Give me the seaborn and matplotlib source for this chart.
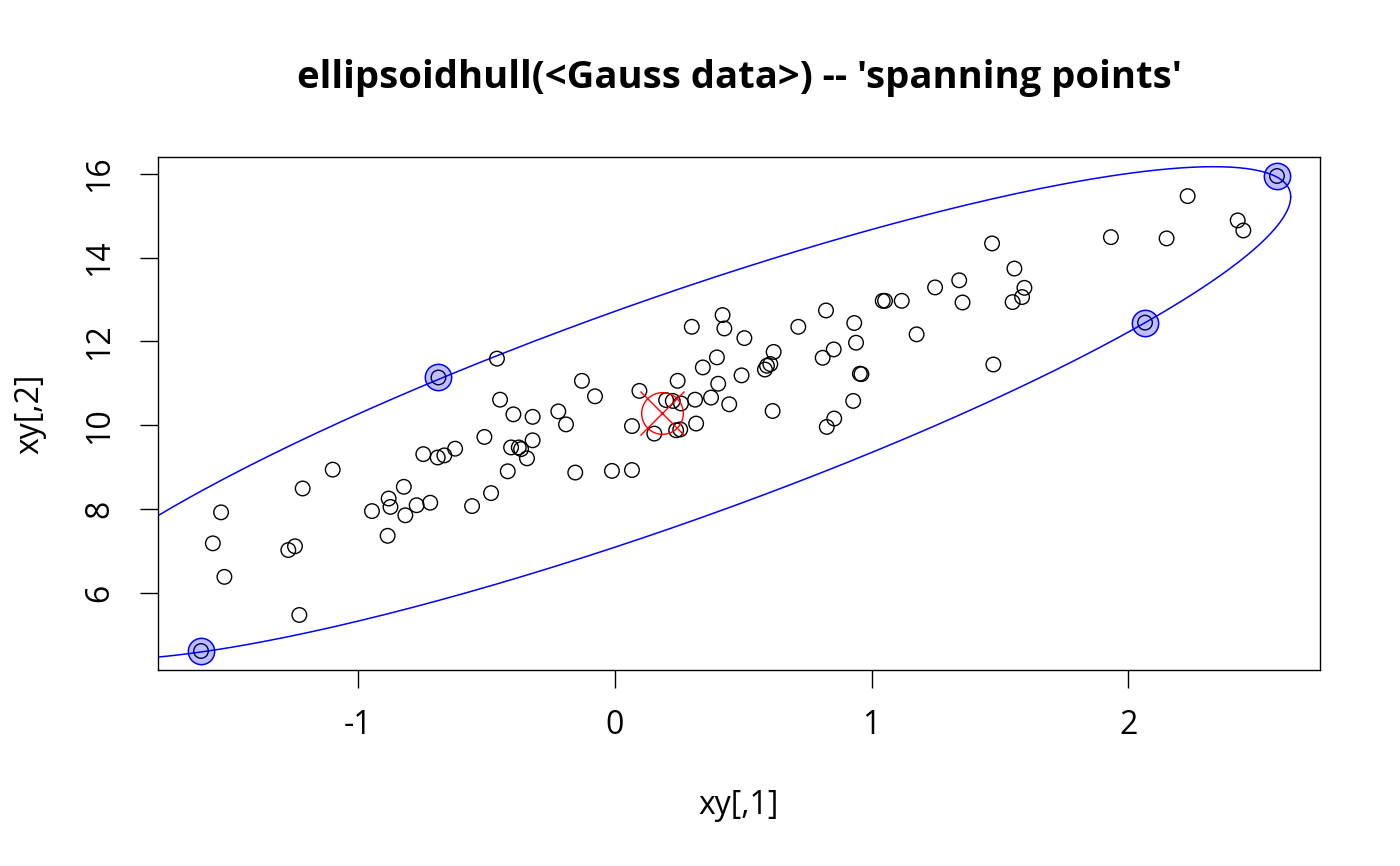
import numpy as np
import pandas as pd
import matplotlib
matplotlib.use("Agg")
import matplotlib.pyplot as plt
import seaborn as sns

# Gauss data (xy[,1], xy[,2])
x_vals = [
    -1.613, -1.535, -1.567, -1.522, -1.217, -1.230, -1.273, -1.247, -1.100, -0.947,
    -0.882, -0.875, -0.823, -0.817, -0.773, -0.720, -0.886, -0.747, -0.691, -0.665,
    -0.623, -0.688, -0.460, -0.448, -0.509, -0.557, -0.483, -0.418, -0.396, -0.321,
    -0.405, -0.375, -0.366, -0.321, -0.343, -0.221, -0.191, -0.129, -0.078, -0.155,
    -0.012, 0.066, 0.066, 0.095, 0.153, 0.199, 0.225, 0.257, 0.244, 0.312,
    0.238, 0.254, 0.316, 0.374, 0.445, 0.402, 0.397, 0.342, 0.493, 0.299,
    0.419, 0.426, 0.504, 0.714, 0.822, 0.932, 0.939, 0.809, 0.852, 0.954,
    0.960, 0.928, 0.854, 0.825, 0.618, 0.605, 0.592, 0.584, 0.614, 1.043,
    1.052, 1.117, 1.247, 1.341, 1.354, 1.175, 1.474, 1.549, 1.586, 1.595,
    1.556, 1.469, 1.932, 2.149, 2.065, 2.231, 2.426, 2.448, 2.579,
]
y_vals = [
    4.61, 7.92, 7.18, 6.38, 8.49, 5.47, 7.02, 7.11, 8.94, 7.95,
    8.25, 8.05, 8.53, 7.85, 8.09, 8.15, 7.36, 9.31, 9.23, 9.28,
    9.44, 11.14, 11.59, 10.61, 9.72, 8.07, 8.38, 8.90, 10.26, 10.20,
    9.47, 9.47, 9.43, 9.64, 9.21, 10.33, 10.02, 11.06, 10.69, 8.87,
    8.91, 8.93, 9.98, 10.82, 9.80, 10.60, 10.58, 10.52, 11.06, 10.61,
    9.88, 9.90, 10.04, 10.66, 10.50, 10.99, 11.62, 11.38, 11.19, 12.35,
    12.63, 12.31, 12.08, 12.35, 12.74, 12.44, 11.97, 11.61, 11.81, 11.23,
    11.22, 10.58, 10.16, 9.96, 11.75, 11.46, 11.42, 11.33, 10.34, 12.97,
    12.97, 12.97, 13.29, 13.46, 12.93, 12.17, 11.45, 12.94, 13.06, 13.28,
    13.74, 14.34, 14.49, 14.46, 12.45, 15.47, 14.89, 14.65, 15.95,
]
# indices of the points that span the hull
spanning_idx = [0, 21, 94, 98]

# ellipsoid hull: location and shape matrix (d2 * cov)
hull_loc = [0.183, 10.29]
hull_shape = [[6.0, 12.64], [12.64, 34.6]]

xy = pd.DataFrame({"x": x_vals, "y": y_vals})

sns.set_style("ticks")
plt.rcParams["font.family"] = ["Open Sans", "DejaVu Sans"]
plt.rcParams["axes.unicode_minus"] = False
plt.rcParams["text.color"] = "black"
plt.rcParams["axes.labelcolor"] = "black"

fig = plt.figure(figsize=(14, 8.66), dpi=100)
ax = fig.add_axes([158 / 1400, 1 - 670 / 866, 1162 / 1400, 513 / 866])

sns.scatterplot(data=xy, x="x", y="y", ax=ax, s=110, facecolor="none",
                edgecolor="black", linewidth=1.0, zorder=3)

# ellipse outline
t = np.linspace(0, 2 * np.pi, 401)
L = np.linalg.cholesky(np.array(hull_shape))
ell = np.array(hull_loc)[:, None] + L @ np.vstack([np.cos(t), np.sin(t)])
ax.plot(ell[0], ell[1], color="blue", lw=1.1, zorder=2)

# centre marker (pch 13)
ax.plot(hull_loc[0], hull_loc[1], marker="o", ms=30, mfc="none", mec="red",
        mew=1.0, zorder=4)
ax.plot(hull_loc[0], hull_loc[1], marker="x", ms=31, mec="red", mew=1.0,
        zorder=4)

# spanning points
span = xy.iloc[spanning_idx]
sns.scatterplot(data=span, x="x", y="y", ax=ax, s=360,
                facecolor=(0, 0, 1, 0.25), edgecolor="blue", linewidth=1.1,
                zorder=5)

# R-style 4% range padding
xr = xy["x"].max() - xy["x"].min()
yr = xy["y"].max() - xy["y"].min()
ax.set_xlim(xy["x"].min() - 0.04 * xr, xy["x"].max() + 0.04 * xr)
ax.set_ylim(xy["y"].min() - 0.04 * yr, xy["y"].max() + 0.04 * yr)

ax.set_xticks([-1, 0, 1, 2])
ax.set_xticklabels(["-1", "0", "1", "2"])
ax.set_yticks([6, 8, 10, 12, 14, 16])
ax.set_yticklabels([str(v) for v in [6, 8, 10, 12, 14, 16]], rotation=90,
                   va="center")
ax.tick_params(axis="both", length=13, width=1.0, labelsize=23,
               color="black", labelcolor="black", direction="out")
ax.tick_params(axis="x", pad=15)
ax.tick_params(axis="y", pad=17)
for sp in ax.spines.values():
    sp.set_visible(True)
    sp.set_color("black")
    sp.set_linewidth(1.0)

ax.set_xlabel("xy[,1]", fontsize=23, va="center")
ax.xaxis.set_label_coords(0.5, (670 - 805) / 513)
ax.set_ylabel("xy[,2]", fontsize=23, va="center")
ax.yaxis.set_label_coords((30 - 158) / 1162, 0.5)

fig.text(739 / 1400, 1 - 78 / 866,
         "ellipsoidhull(<Gauss data>) -- 'spanning points'",
         ha="center", va="center", fontsize=27.5, fontweight="bold",
         color="black")

fig.savefig("out.png", dpi=100)
